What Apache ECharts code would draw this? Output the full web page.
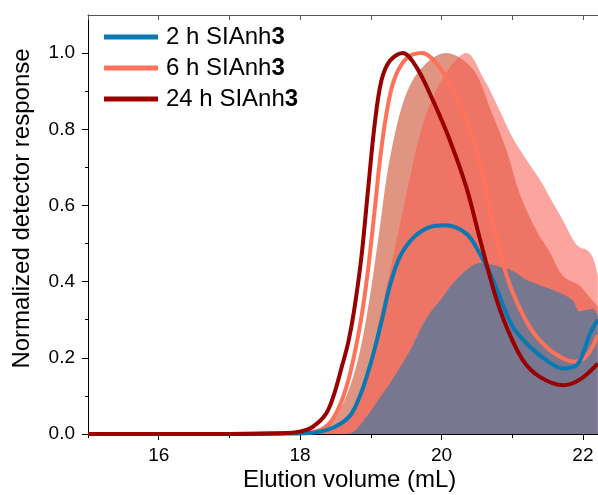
<!DOCTYPE html>
<html>
<head>
<meta charset="utf-8">
<script src="https://cdn.jsdelivr.net/npm/echarts@6/dist/echarts.min.js"></script>
<style>html,body{margin:0;padding:0;background:#fff}#c{width:598px;height:495px}</style>
</head>
<body>
<div id="c"></div>
<script>
// ---- data ----
const x2h = [15, 16, 17, 17.8, 18.2, 18.47, 18.7, 18.84, 18.94, 19.05, 19.17, 19.27, 19.41, 19.6, 19.83, 20.05, 20.35, 20.54, 20.73, 20.82, 21.01, 21.25, 21.48, 21.72, 21.91, 22.0, 22.1, 22.21];
const y2h = [0, 0, 0, 0.001, 0.004, 0.017, 0.047, 0.097, 0.15, 0.22, 0.31, 0.39, 0.465, 0.515, 0.543, 0.548, 0.526, 0.474, 0.404, 0.362, 0.281, 0.229, 0.194, 0.172, 0.181, 0.211, 0.264, 0.30];

const x6h = [15, 16, 17, 17.8, 18.2, 18.4, 18.55, 18.68, 18.78, 18.87, 18.96, 19.05, 19.13, 19.22, 19.33, 19.5, 19.72, 19.97, 20.21, 20.45, 20.6, 20.72, 20.85, 21.01, 21.25, 21.48, 21.72, 21.88, 22.05, 22.21];
const y6h = [0, 0, 0, 0.002, 0.006, 0.025, 0.07, 0.14, 0.22, 0.31, 0.43, 0.58, 0.72, 0.84, 0.93, 0.985, 1.0, 0.963, 0.884, 0.77, 0.67, 0.56, 0.46, 0.37, 0.28, 0.229, 0.198, 0.19, 0.205, 0.26];

const x24h = [15, 16, 17, 17.7, 17.99, 18.18, 18.37, 18.49, 18.58, 18.68, 18.76, 18.867, 18.96, 19.055, 19.15, 19.27, 19.45, 19.645, 19.88, 20.12, 20.35, 20.56, 20.75, 20.92, 21.15, 21.39, 21.72, 21.95, 22.21];
const y24h = [0, 0, 0, 0.002, 0.006, 0.019, 0.054, 0.11, 0.17, 0.24, 0.32, 0.465, 0.64, 0.814, 0.928, 0.98, 1.0, 0.963, 0.875, 0.77, 0.648, 0.50, 0.37, 0.281, 0.194, 0.15, 0.128, 0.142, 0.185];

// shaded envelopes
const xBandA = [15, 17, 17.9, 18.1, 18.3, 18.48, 18.62, 18.75, 18.86, 18.96, 19.05, 19.14, 19.22, 19.32, 19.44, 19.58, 19.74, 19.9, 20.07, 20.28, 20.49, 20.68, 20.92, 21.106, 21.34, 21.53, 21.72, 21.95, 22.09, 22.21];
const yBandA = [0, 0, 0.001, 0.004, 0.015, 0.04, 0.085, 0.15, 0.23, 0.33, 0.44, 0.56, 0.67, 0.77, 0.86, 0.925, 0.965, 0.99, 1.0, 0.985, 0.945, 0.858, 0.744, 0.631, 0.535, 0.478, 0.415, 0.39, 0.36, 0.334];

const xBandB = [15, 17.5, 18.1, 18.3, 18.55, 18.75, 18.9, 19.0, 19.12, 19.25, 19.4, 19.55, 19.7, 19.88, 20.12, 20.35, 20.59, 20.82, 21.0, 21.2, 21.4, 21.58, 21.72, 21.86, 21.95, 22.05, 22.12, 22.17, 22.21];
const yBandB = [0, 0, 0.001, 0.005, 0.025, 0.065, 0.13, 0.2, 0.3, 0.41, 0.54, 0.67, 0.79, 0.884, 0.963, 1.0, 0.935, 0.85, 0.78, 0.72, 0.665, 0.605, 0.56, 0.51, 0.49, 0.484, 0.47, 0.447, 0.415];

const xBandC = [15, 18.6, 18.75, 18.94, 19.1, 19.27, 19.55, 19.79, 20.0, 20.16, 20.35, 20.54, 20.7, 20.82, 21.01, 21.2, 21.4, 21.55, 21.72, 21.86, 21.95, 22.05, 22.14, 22.21];
const yBandC = [0, 0, 0.005, 0.045, 0.088, 0.133, 0.218, 0.305, 0.355, 0.395, 0.43, 0.449, 0.445, 0.439, 0.428, 0.405, 0.39, 0.38, 0.366, 0.35, 0.322, 0.326, 0.329, 0.31];

const seriesNames = ['2 h SIAnh3', '6 h SIAnh3', '24 h SIAnh3'];
const xMajorTicks = [16, 18, 20, 22];
const xMinorTicks = [15, 17, 19, 21];
const xTopTicks = [15, 16, 17, 18, 19, 20, 21, 22];
const yMajorTicks = [0, 0.2, 0.4, 0.6, 0.8, 1.0];
const yMinorTicks = [0.1, 0.3, 0.5, 0.7, 0.9];

// ---- chart ----
const FONT = '"Liberation Sans", Arial, Helvetica, sans-serif';
const XMIN = 15, XMAX = 22.213, YMIN = 0, YMAX = 1.1;
const zip = (xs, ys) => xs.map((x, i) => [x, ys[i]]);

function band(xs, ys, color) {
  return {
    type: 'line', xAxisIndex: 0, yAxisIndex: 0, data: zip(xs, ys),
    smooth: 0.35, symbol: 'none', silent: true,
    lineStyle: { width: 0, opacity: 0 }, areaStyle: { color: color, opacity: 1 }, z: 2
  };
}
function curve(name, xs, ys, color) {
  return {
    name: name, type: 'line', xAxisIndex: 0, yAxisIndex: 0, data: zip(xs, ys),
    smooth: 0.35, symbol: 'none',
    lineStyle: { width: 4, color: color }, itemStyle: { color: color }, z: 3
  };
}

const gridPos = { left: 88, right: 0, top: 15, bottom: 61 };
const chart = echarts.init(document.getElementById('c'), null, { renderer: 'canvas' });
chart.setOption({
  animation: false,
  backgroundColor: '#fff',
  grid: [Object.assign({}, gridPos), Object.assign({}, gridPos)],
  xAxis: [
    { type: 'value', gridIndex: 0, min: XMIN, max: XMAX, position: 'bottom',
      axisLine: { show: true, onZero: false, lineStyle: { color: '#000', width: 1 } },
      axisTick: { show: true, length: 6, customValues: xMajorTicks, lineStyle: { color: '#000', width: 1 } },
      axisLabel: { customValues: xMajorTicks, fontSize: 19, fontFamily: FONT, color: '#000', margin: 12 },
      splitLine: { show: false } },
    { type: 'value', gridIndex: 1, min: XMIN, max: XMAX, position: 'bottom',
      axisLine: { show: false, onZero: false },
      axisTick: { show: true, length: 4, customValues: xMinorTicks, lineStyle: { color: '#000', width: 1 } },
      axisLabel: { show: false }, splitLine: { show: false } },
    { type: 'value', gridIndex: 1, min: XMIN, max: XMAX, position: 'top',
      axisLine: { show: true, onZero: false, lineStyle: { color: '#555', width: 1 } },
      axisTick: { show: true, inside: true, length: 5, customValues: xTopTicks, lineStyle: { color: '#555', width: 1 } },
      axisLabel: { show: false }, splitLine: { show: false } }
  ],
  yAxis: [
    { type: 'value', gridIndex: 0, min: YMIN, max: YMAX, position: 'left',
      axisLine: { show: true, onZero: false, lineStyle: { color: '#000', width: 1 } },
      axisTick: { show: true, length: 6, customValues: yMajorTicks, lineStyle: { color: '#000', width: 1 } },
      axisLabel: { customValues: yMajorTicks, formatter: v => Number(v).toFixed(1), fontSize: 19, fontFamily: FONT, color: '#000', margin: 13 },
      splitLine: { show: false } },
    { type: 'value', gridIndex: 1, min: YMIN, max: YMAX, position: 'left',
      axisLine: { show: false, onZero: false },
      axisTick: { show: true, length: 3, customValues: yMinorTicks, lineStyle: { color: '#000', width: 1 } },
      axisLabel: { show: false }, splitLine: { show: false } }
  ],
  legend: {
    data: seriesNames, orient: 'vertical', left: 104, top: 25, padding: 0, itemGap: 7,
    itemWidth: 54, itemHeight: 5, icon: 'rect',
    formatter: n => n.slice(0, -1) + '{b|3}',
    textStyle: { fontSize: 24, fontFamily: FONT, color: '#000', padding: [0, 0, 0, 3],
      rich: { b: { fontSize: 24, fontFamily: FONT, fontWeight: 'bold', color: '#000' } } },
    selectedMode: false
  },
  graphic: [
    { type: 'text', x: 349.6, y: 480, silent: true,
      style: { text: 'Elution volume (mL)', fontSize: 24, fontFamily: FONT, fill: '#000',
        textAlign: 'center', textVerticalAlign: 'middle', align: 'center', verticalAlign: 'middle' } },
    { type: 'text', x: 22, y: 208.5, rotation: Math.PI / 2, silent: true,
      style: { text: 'Normalized detector response', fontSize: 24, fontFamily: FONT, fill: '#000',
        textAlign: 'center', textVerticalAlign: 'middle', align: 'center', verticalAlign: 'middle' } }
  ],
  series: [
    band(xBandA, yBandA, 'rgba(193,41,5,0.5)'),
    band(xBandB, yBandB, 'rgba(250,90,79,0.55)'),
    band(xBandC, yBandC, 'rgba(0,123,187,0.5)'),
    curve(seriesNames[1], x6h, y6h, '#ff725a'),
    curve(seriesNames[0], x2h, y2h, '#0a78b3'),
    curve(seriesNames[2], x24h, y24h, '#990000')
  ]
});
</script>
</body>
</html>
